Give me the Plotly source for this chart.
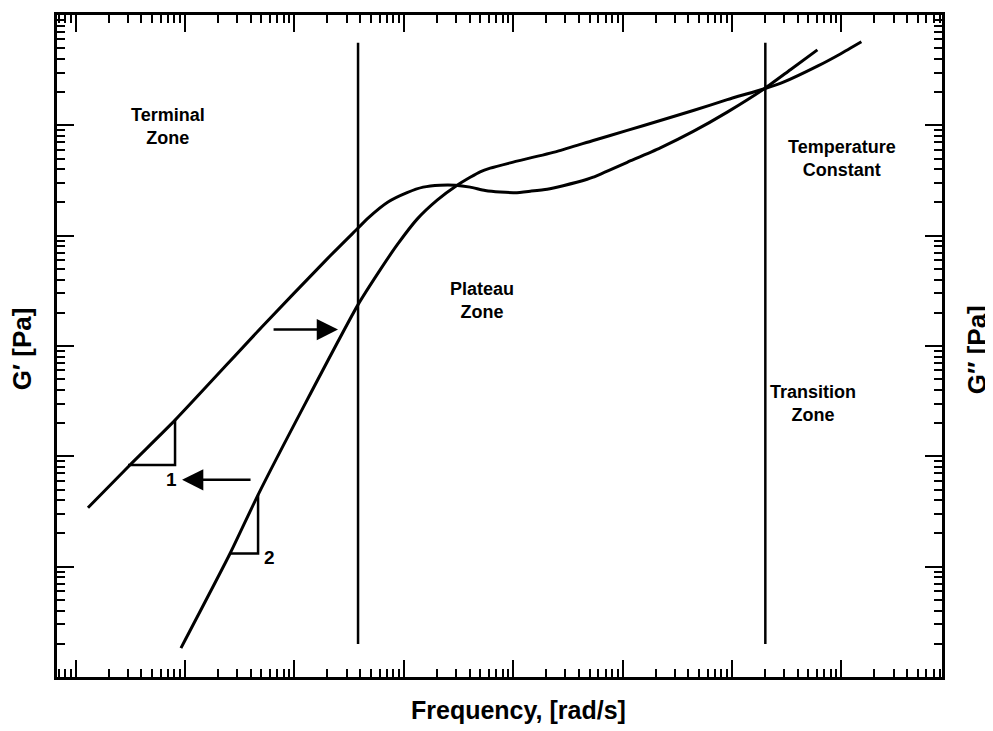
import plotly.graph_objects as go

# ---- data (log10 frequency, log10 modulus) ----
# G'' (slope 1 at low frequency)
g2_logw = [-0.887, -0.503, -0.091, 0.70, 1.30, 1.582, 1.673, 1.856, 2.030, 2.177, 2.332, 2.470,
           2.607, 2.744, 2.881, 3.018, 3.156, 3.311, 3.457, 3.677, 3.732, 4.043, 4.345, 4.646,
           4.957, 5.296, 5.534, 5.781]
g2_logG = [1.534, 1.922, 2.328, 3.17, 3.79, 4.069, 4.159, 4.305, 4.390, 4.440, 4.458, 4.458,
           4.440, 4.409, 4.395, 4.390, 4.403, 4.421, 4.453, 4.511, 4.530, 4.665, 4.796, 4.945,
           5.120, 5.332, 5.504, 5.684]

# G' (slope 2 at low frequency)
g1_logw = [-0.037, 0.412, 0.668, 1.10, 1.582, 1.784, 1.939, 2.122, 2.305, 2.488, 2.607, 2.698,
           2.790, 2.973, 3.402, 3.732, 4.043, 4.345, 4.646, 4.957, 5.296, 5.470, 5.781, 5.991,
           6.183]
g1_logG = [0.262, 1.119, 1.651, 2.48, 3.375, 3.690, 3.916, 4.150, 4.322, 4.457, 4.529, 4.579,
           4.612, 4.660, 4.764, 4.863, 4.954, 5.044, 5.134, 5.233, 5.332, 5.391, 5.536, 5.647,
           5.757]

zone_lines_logw = [1.582, 5.305]
zone_line_logG = [0.30, 5.748]

tri1_logw = [-0.521, -0.091, -0.091]
tri1_logG = [1.922, 1.922, 2.328]
tri2_logw = [0.412, 0.668, 0.668]
tri2_logG = [1.119, 1.119, 1.651]

zone_labels = ["Terminal<br>Zone", "Plateau<br>Zone", "Temperature<br>Constant", "Transition<br>Zone"]
zone_label_logw = [-0.155, 2.716, 6.009, 5.744]
zone_label_logG = [4.990, 3.411, 4.701, 2.481]

slope_labels = ["1", "2"]
slope_label_logw = [-0.119, 0.777]
slope_label_logG = [1.787, 1.083]

arrow_tail_logw = [0.796, 0.613]
arrow_tip_logw = [1.399, -0.027]
arrow_logG = [3.149, 1.787]

x_range = [-1.17, 6.92]
y_range = [0.0, 6.0]

def p10(v):
    return [10 ** a for a in v]

fig = go.Figure()
line_style = dict(color="black", width=3, shape="spline", smoothing=0.6)
fig.add_trace(go.Scatter(x=p10(g2_logw), y=p10(g2_logG), mode="lines", line=line_style,
                         showlegend=False, hoverinfo="skip"))
fig.add_trace(go.Scatter(x=p10(g1_logw), y=p10(g1_logG), mode="lines", line=line_style,
                         showlegend=False, hoverinfo="skip"))
for xv in zone_lines_logw:
    fig.add_trace(go.Scatter(x=p10([xv, xv]), y=p10(zone_line_logG), mode="lines",
                             line=dict(color="black", width=2.5), showlegend=False, hoverinfo="skip"))
for tx, ty in [(tri1_logw, tri1_logG), (tri2_logw, tri2_logG)]:
    fig.add_trace(go.Scatter(x=p10(tx), y=p10(ty), mode="lines",
                             line=dict(color="black", width=2.5), showlegend=False, hoverinfo="skip"))

font_family = "Liberation Sans, Arial, sans-serif"
for t, xv, yv in zip(zone_labels, zone_label_logw, zone_label_logG):
    fig.add_annotation(x=xv, y=yv, xref="x", yref="y", text="<b>" + t.replace("<br>", "</b><br><b>") + "</b>",
                       showarrow=False,
                       font=dict(size=18, color="black", family=font_family))
for t, xv, yv in zip(slope_labels, slope_label_logw, slope_label_logG):
    fig.add_annotation(x=xv, y=yv, xref="x", yref="y", text="<b>" + t + "</b>", showarrow=False,
                       font=dict(size=19, color="black", family=font_family))
for tail, tip, yv in zip(arrow_tail_logw, arrow_tip_logw, arrow_logG):
    fig.add_annotation(x=tip, y=yv, ax=tail, ay=yv, xref="x", yref="y", axref="x", ayref="y",
                       text="", showarrow=True, arrowhead=2, arrowsize=1.7, arrowwidth=2.5,
                       arrowcolor="black")

fig.add_annotation(x=0.522, y=-0.050, xref="paper", yref="paper", text="<b>Frequency, [rad/s]</b>",
                   showarrow=False, xanchor="center", yanchor="middle",
                   font=dict(size=25, color="black", family=font_family))
fig.add_annotation(x=-0.0395, y=0.495, xref="paper", yref="paper", text="<b>G\u2032 [Pa]</b>",
                   showarrow=False, textangle=-90, xanchor="center", yanchor="middle",
                   font=dict(size=26, color="black", family=font_family))
fig.add_annotation(x=1.0395, y=0.495, xref="paper", yref="paper", text="<b>G\u2033 [Pa]</b>",
                   showarrow=False, textangle=-90, xanchor="center", yanchor="middle",
                   font=dict(size=26, color="black", family=font_family))

axis_common = dict(type="log", showgrid=False, zeroline=False, showticklabels=False,
                   showline=True, linecolor="black", linewidth=2.5, mirror="ticks",
                   ticks="inside", ticklen=17, tickwidth=2, tickcolor="black", dtick=1,
                   minor=dict(ticks="inside", ticklen=8, tickwidth=1.5, tickcolor="black",
                              dtick="D1", showgrid=False))
fig.update_xaxes(range=x_range, **axis_common)
fig.update_yaxes(range=y_range, **axis_common)

fig.update_layout(width=985, height=723, margin=dict(l=49, r=51, t=4, b=54),
                  plot_bgcolor="white", paper_bgcolor="white",
                  font=dict(family=font_family, color="black"))

fig.write_html("out.html")
